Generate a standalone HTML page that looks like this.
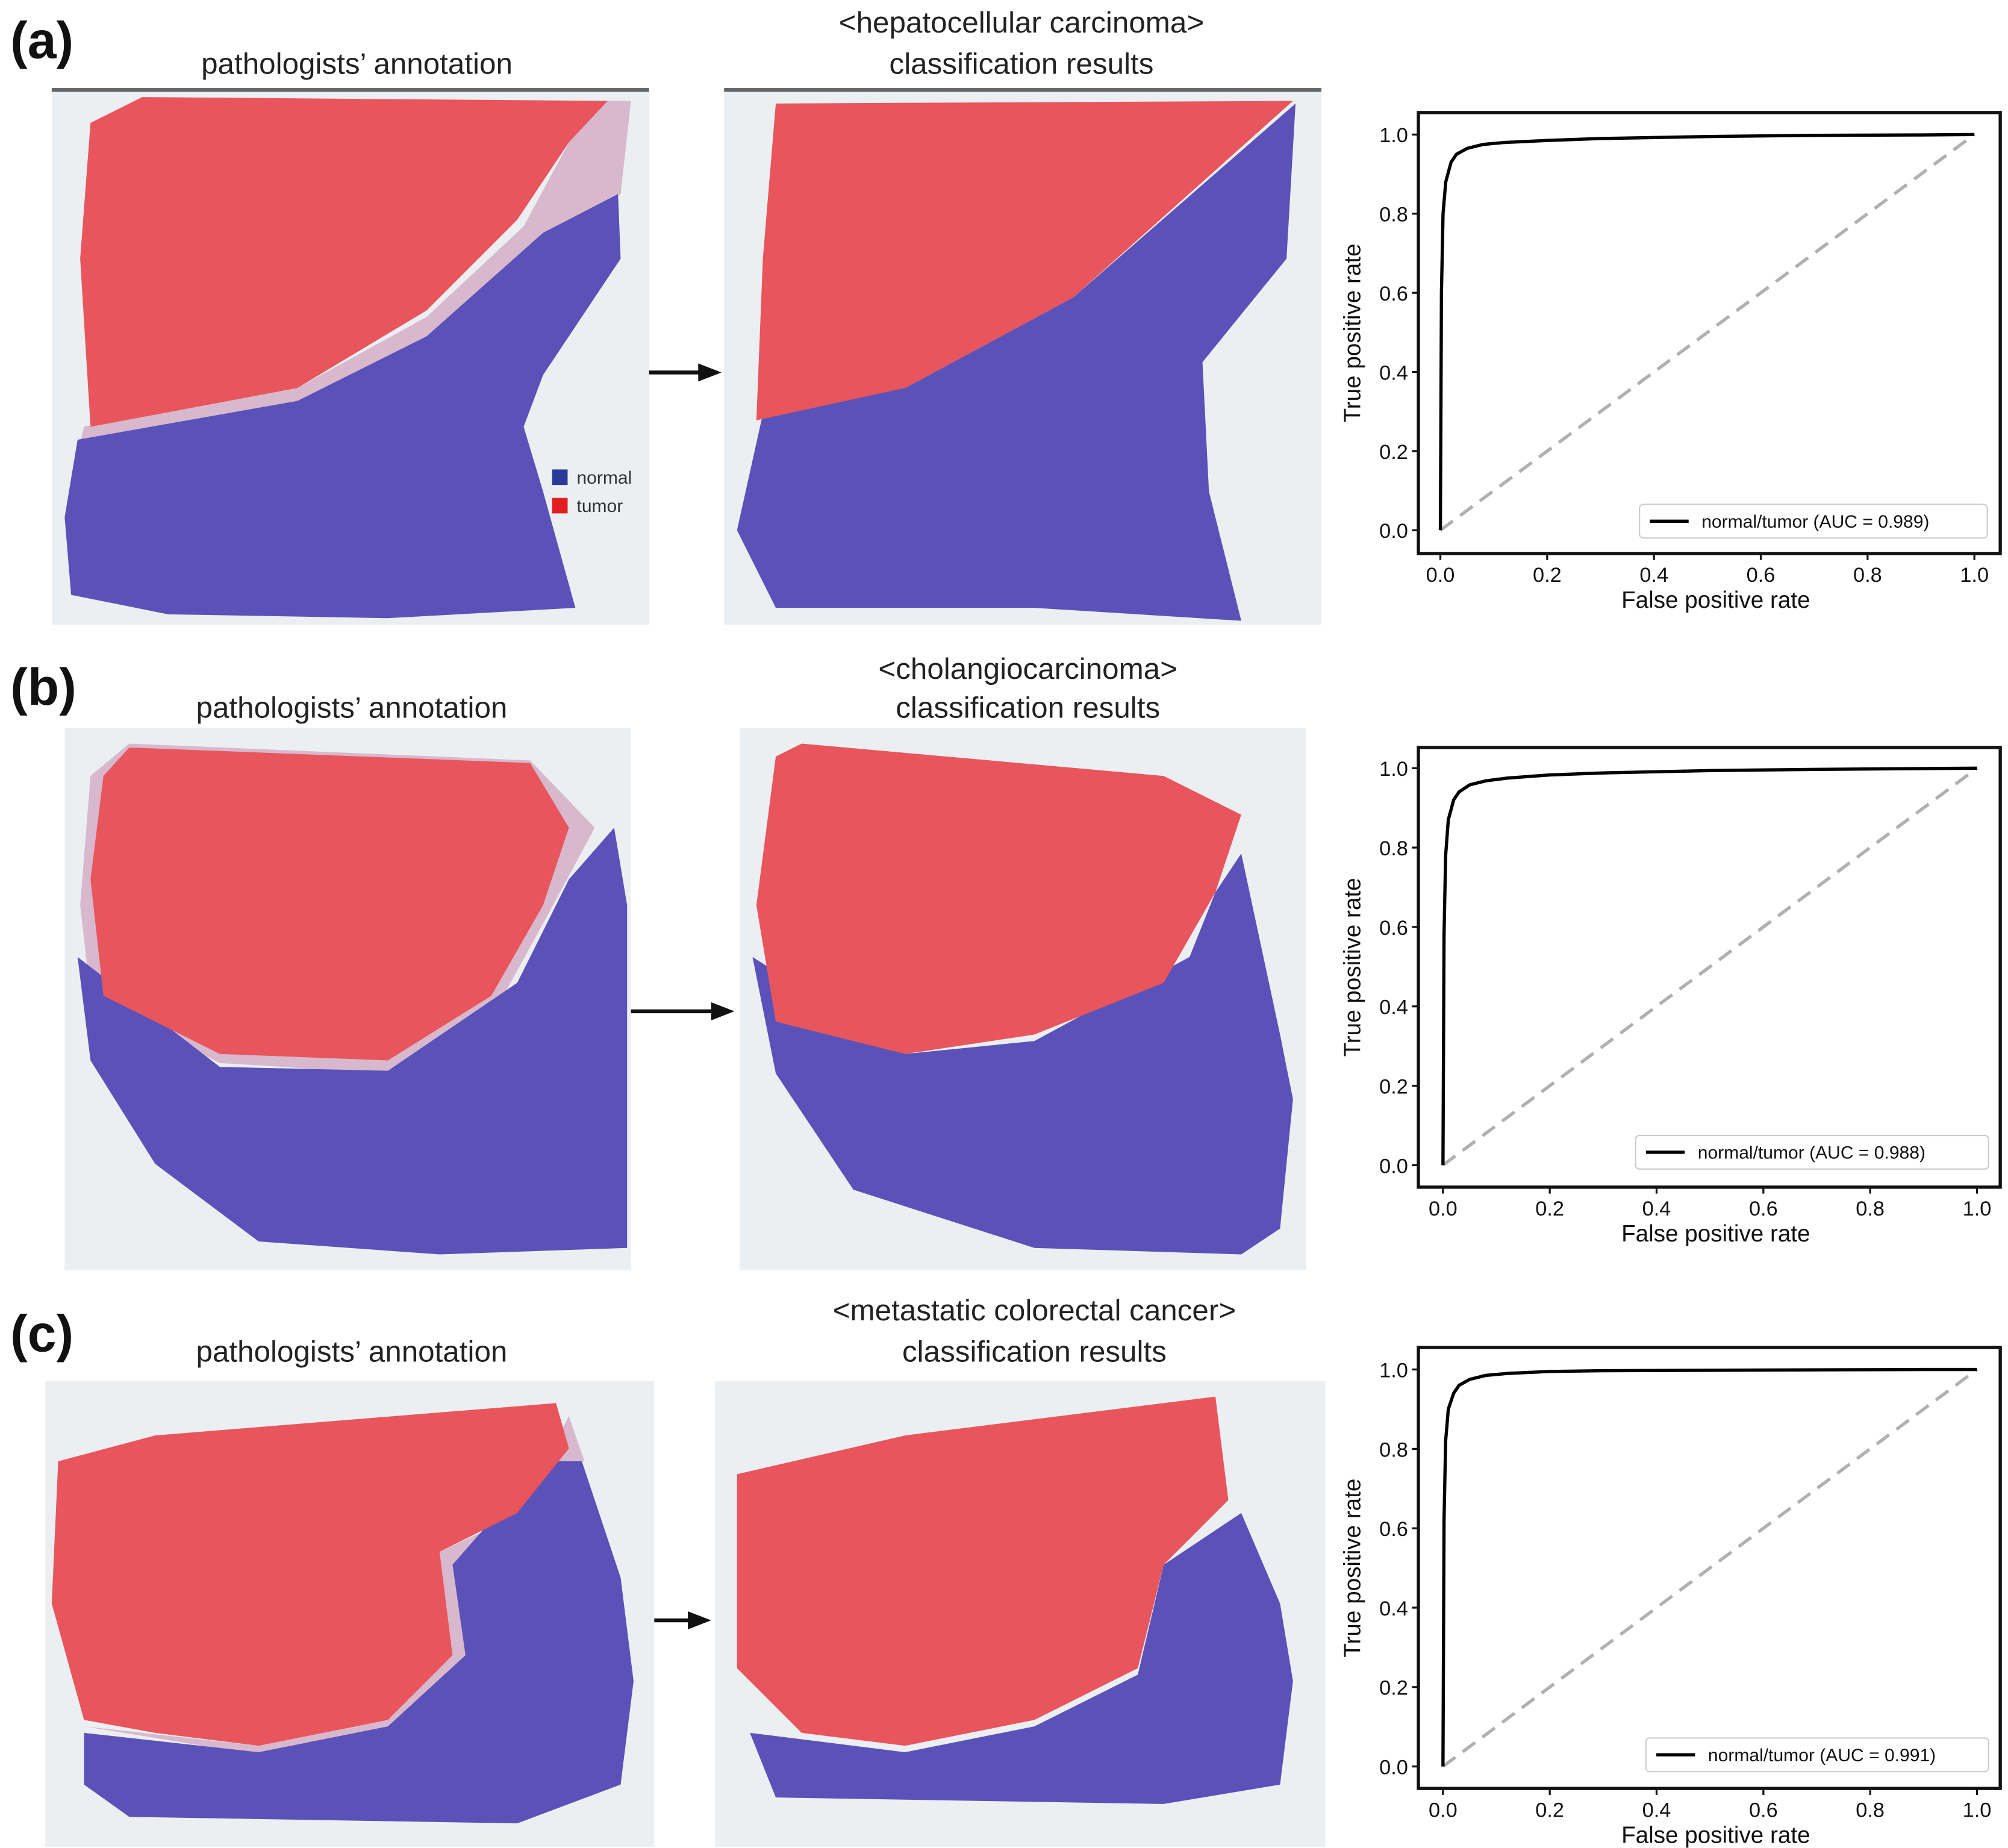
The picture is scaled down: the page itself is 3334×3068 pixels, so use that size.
<!DOCTYPE html>
<html><head><meta charset="utf-8"><style>
html,body{margin:0;padding:0;background:#fff;}
svg{display:block;font-family:"Liberation Sans",sans-serif;}
</style></head><body>
<svg id="fig" width="3334" height="3068" viewBox="0 0 1553 1429" xmlns="http://www.w3.org/2000/svg">
<rect width="1553" height="1429" fill="#fff"/>
<g id="static"></g>
<g id="rocs"></g>
</svg>
<script>
// ROC data (shared FPR grid, per-panel TPR)
const fpr = [0,0.002,0.005,0.01,0.02,0.03,0.05,0.08,0.12,0.2,0.3,0.5,0.7,0.9,1.0];
const tprA = [0,0.6,0.8,0.88,0.93,0.95,0.965,0.975,0.98,0.985,0.99,0.995,0.998,0.999,1.0];
const tprB = [0,0.58,0.78,0.87,0.92,0.94,0.958,0.968,0.975,0.983,0.988,0.994,0.997,0.999,1.0];
const tprC = [0,0.62,0.82,0.9,0.94,0.96,0.975,0.985,0.99,0.995,0.997,0.998,0.999,1.0,1.0];
const aucLabels = ["normal/tumor (AUC = 0.989)","normal/tumor (AUC = 0.988)","normal/tumor (AUC = 0.991)"];
const tickVals = [0,0.2,0.4,0.6,0.8,1.0];
const tickLabels = ["0.0","0.2","0.4","0.6","0.8","1.0"];

const NS="http://www.w3.org/2000/svg";
function mk(tag,attrs,parent,text){const e=document.createElementNS(NS,tag);for(const k in attrs)e.setAttribute(k,attrs[k]);if(text!==undefined)e.textContent=text;parent.appendChild(e);return e;}

const st=document.getElementById('static');
// panel labels and titles
const labels=[["(a)",8,45],["(b)",8,545],["(c)",8,1045]];
labels.forEach(l=>{const t=mk('text',{x:l[1],y:l[2],'font-size':40,'font-weight':'bold',fill:'#111'},st,l[0]);

});
const titles=[["pathologists’ annotation",276,57],["<hepatocellular carcinoma>",790,25],["classification results",790,57],
["pathologists’ annotation",272,555],["<cholangiocarcinoma>",795,525],["classification results",795,555],
["pathologists’ annotation",272,1053],["<metastatic colorectal cancer>",800,1021],["classification results",800,1053]];
titles.forEach((tt,i)=>{const t=mk('text',{x:tt[1],y:tt[2],'font-size':23,'text-anchor':'middle',fill:'#222'},st,tt[0]);

});

// tissue images
const imgs=[
 {x:40,y:68,w:462,h:415,bar:true,red:"70,95 110,75 470,78 440,110 400,170 330,240 230,300 70,330 62,200",
  blue:"60,340 230,310 330,260 420,180 478,150 480,200 420,290 405,330 420,380 445,470 300,478 130,475 55,460 50,400",band:"65,330 230,300 330,245 405,175 440,110 470,78 488,78 480,150 420,185 330,262 230,315 62,342"},
 {x:560,y:68,w:462,h:415,bar:true,red:"600,80 1000,78 830,230 700,300 585,325 590,200",
  blue:"590,320 700,300 830,230 1002,80 995,200 930,280 935,380 960,480 800,470 600,470 570,410"},
 {x:50,y:563,w:438,h:419,red:"80,600 100,578 410,590 440,640 420,700 380,770 300,820 170,815 80,770 70,680",
  blue:"60,740 170,825 300,828 400,760 440,680 475,640 485,700 485,965 340,970 200,960 120,900 70,820",band:"62,700 70,600 100,575 410,588 460,640 425,705 385,778 300,830 170,822 70,770"},
 {x:572,y:563,w:438,h:419,red:"600,585 620,575 900,600 960,630 940,690 900,760 800,800 700,815 600,790 585,700",
  blue:"582,740 700,815 800,805 920,740 940,690 960,660 990,800 1000,850 990,950 960,970 800,965 660,920 600,830"},
 {x:35,y:1068,w:471,h:360,red:"45,1130 120,1110 430,1085 440,1120 400,1170 340,1200 350,1280 300,1330 200,1350 120,1340 65,1330 40,1240",
  blue:"65,1340 200,1355 300,1335 360,1280 350,1210 420,1130 450,1130 480,1220 490,1300 480,1380 400,1410 100,1405 65,1380",band:"65,1335 200,1357 305,1340 365,1282 355,1212 425,1130 452,1130 440,1095 400,1172 340,1200 350,1280 300,1330 200,1350"},
 {x:553,y:1068,w:472,h:360,red:"570,1140 700,1110 940,1080 950,1160 900,1210 880,1290 800,1330 700,1350 620,1340 570,1290",
  blue:"580,1340 700,1355 800,1335 880,1295 900,1210 960,1170 990,1240 1000,1300 990,1380 900,1395 600,1390"}
];
imgs.forEach((m,i)=>{
 const g=mk('g',{},st);
 
 
 mk('rect',{x:m.x,y:m.y,width:m.w,height:m.h,fill:'#eceff2'},g);
 if(m.bar) mk('rect',{x:m.x,y:m.y,width:m.w,height:3,fill:'#666'},g);
 if(m.band) mk('polygon',{points:m.band,fill:'#d8b8cc'},g);
 mk('polygon',{points:m.blue,fill:'#5a52b8'},g);
 mk('polygon',{points:m.red,fill:'#e8555c'},g);
});
// legend in first image
mk('rect',{x:427,y:363,width:12,height:12,fill:'#2a3a9a'},st);
mk('text',{x:446,y:374,'font-size':14,fill:'#333'},st,'normal');
mk('rect',{x:427,y:385,width:12,height:12,fill:'#e02020'},st);
mk('text',{x:446,y:396,'font-size':14,fill:'#333'},st,'tumor');
// arrows
[[502,558,288],[488,568,782],[506,550,1253]].forEach(a=>{
 const g=mk('g',{},st);
 
 
 mk('line',{x1:a[0],y1:a[2],x2:a[1]-14,y2:a[2],stroke:'#111','stroke-width':3},g);
 mk('polygon',{points:`${a[1]},${a[2]} ${a[1]-18},${a[2]-7} ${a[1]-18},${a[2]+7}`,fill:'#111'},g);
});

// ROC panels
const rocPanels=[
 {box:[1097,87,1547,428],x0:1114,x1:1527,y0:410,y1:104,leg:[1268,390,1537,416],tpr:tprA},
 {box:[1097,578,1547,918],x0:1116,x1:1529,y0:901,y1:594,leg:[1265,878,1538,904],tpr:tprB},
 {box:[1097,1042,1547,1383],x0:1116,x1:1529,y0:1366,y1:1059,leg:[1273,1344,1538,1370],tpr:tprC}
];
const rg=document.getElementById('rocs');
rocPanels.forEach((p,i)=>{
 const g=mk('g',{},rg);
 
 
 const sx=v=>p.x0+v*(p.x1-p.x0), sy=v=>p.y0+v*(p.y1-p.y0);
 const b=p.box;
 mk('rect',{x:b[0],y:b[1],width:b[2]-b[0],height:b[3]-b[1],fill:'none',stroke:'#111','stroke-width':2.5},g);
 tickVals.forEach((v,j)=>{
  mk('line',{x1:sx(v),y1:b[3],x2:sx(v),y2:b[3]+5,stroke:'#111','stroke-width':1.5},g);
  const tx=mk('text',{x:sx(v),y:b[3]+22,'font-size':16,'text-anchor':'middle',fill:'#111'},g,tickLabels[j]);
  
  
  mk('line',{x1:b[0]-5,y1:sy(v),x2:b[0],y2:sy(v),stroke:'#111','stroke-width':1.5},g);
  const ty=mk('text',{x:b[0]-8,y:sy(v)+6,'font-size':16,'text-anchor':'end',fill:'#111'},g,tickLabels[j]);
  
  
 });
 const xl=mk('text',{x:(b[0]+b[2])/2+5,y:b[3]+42,'font-size':18,'text-anchor':'middle',fill:'#111'},g,'False positive rate');
 
 
 const yc=(b[1]+b[3])/2;
 const yl=mk('text',{x:1052,y:yc,'font-size':18,'text-anchor':'middle',fill:'#111',transform:`rotate(-90 1052 ${yc})`},g,'True positive rate');
 
 
 const diag=mk('line',{x1:sx(0),y1:sy(0),x2:sx(1),y2:sy(1),stroke:'#b0b0b0','stroke-width':2.5,'stroke-dasharray':'12 7'},g);
 
 
 const pts=fpr.map((f,k)=>sx(f)+','+sy(p.tpr[k])).join(' ');
 const c=mk('polyline',{points:pts,fill:'none',stroke:'#000','stroke-width':2.5},g);
 
 
 const l=p.leg;
 const lg=mk('g',{},g);
 
 
 mk('rect',{x:l[0],y:l[1],width:l[2]-l[0],height:l[3]-l[1],fill:'#fff',stroke:'#ccc','stroke-width':1,rx:3},lg);
 mk('line',{x1:l[0]+8,y1:(l[1]+l[3])/2,x2:l[0]+38,y2:(l[1]+l[3])/2,stroke:'#000','stroke-width':2.5},lg);
 mk('text',{x:l[0]+48,y:(l[1]+l[3])/2+5,'font-size':14,fill:'#111'},lg,aucLabels[i]);
});
</script>
</body></html>
